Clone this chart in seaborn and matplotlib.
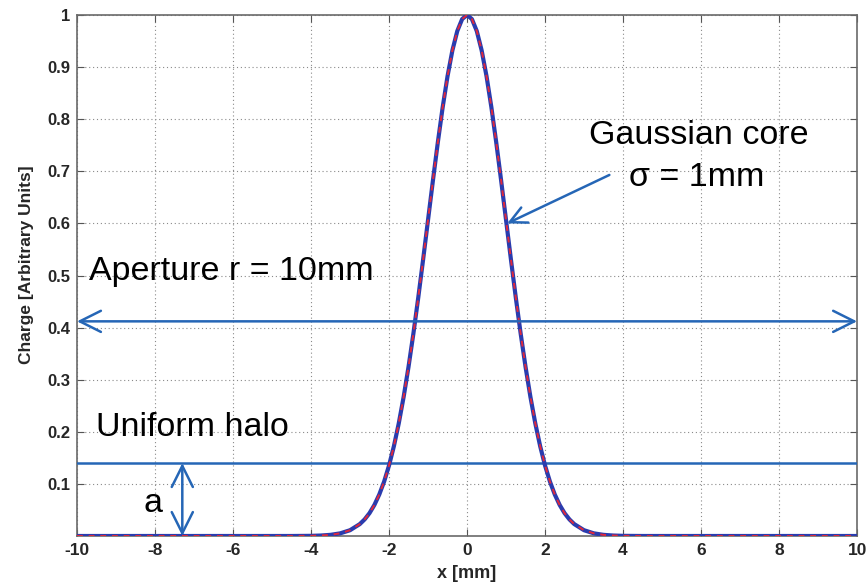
import matplotlib
matplotlib.use("Agg")
import matplotlib.pyplot as plt
import seaborn as sns
import pandas as pd

# Gaussian core profile (sigma = 1 mm)
x_mm = [-10.0, -6.0, -5.0, -4.5, -4.0, -3.75, -3.5, -3.25, -3.0, -2.75, -2.625, -2.5, -2.375,
        -2.25, -2.125, -2.0, -1.875, -1.75, -1.625, -1.5, -1.375, -1.25, -1.125, -1.0,
        -0.875, -0.75, -0.625, -0.5, -0.375, -0.25, -0.125, 0.0,
        0.125, 0.25, 0.375, 0.5, 0.625, 0.75, 0.875, 1.0, 1.125, 1.25, 1.375, 1.5,
        1.625, 1.75, 1.875, 2.0, 2.125, 2.25, 2.375, 2.5, 2.625, 2.75,
        3.0, 3.25, 3.5, 3.75, 4.0, 4.5, 5.0, 6.0, 10.0]
charge = [0.0, 0.0, 0.0, 0.0, 0.0003, 0.0009, 0.0022, 0.0051, 0.0111, 0.0228, 0.0319, 0.0439, 0.0596,
          0.0796, 0.1046, 0.1353, 0.1724, 0.2163, 0.2671, 0.3247, 0.3886, 0.4578, 0.5311, 0.6065,
          0.6819, 0.7548, 0.8226, 0.8825, 0.9321, 0.9692, 0.9922, 1.0,
          0.9922, 0.9692, 0.9321, 0.8825, 0.8226, 0.7548, 0.6819, 0.6065, 0.5311, 0.4578, 0.3886, 0.3247,
          0.2671, 0.2163, 0.1724, 0.1353, 0.1046, 0.0796, 0.0596, 0.0439, 0.0319, 0.0228,
          0.0111, 0.0051, 0.0022, 0.0009, 0.0003, 0.0, 0.0, 0.0, 0.0]

halo_level = 0.14
aperture_y = 0.412
aperture_x = [-10, 10]
halo_arrow_x = -7.3

x_ticks = [-10, -8, -6, -4, -2, 0, 2, 4, 6, 8, 10]
y_ticks = [0.1, 0.2, 0.3, 0.4, 0.5, 0.6, 0.7, 0.8, 0.9, 1.0]
y_tick_labels = ["0.1", "0.2", "0.3", "0.4", "0.5", "0.6", "0.7", "0.8", "0.9", "1"]

df = pd.DataFrame({"x": x_mm, "charge": charge})

sns.set_style("white")
plt.rcParams["font.family"] = ["Liberation Sans", "DejaVu Sans"]

fig = plt.figure(figsize=(8.68, 5.84), dpi=100)
ax = fig.add_axes([0.0887, 0.0822, 0.8987, 0.8921])

blue_line = "#2a3cae"
red_dash = "#e0283c"
arrow_blue = "#2566b6"

sns.lineplot(data=df, x="x", y="charge", ax=ax, color=blue_line, lw=3.0, zorder=4)
sns.lineplot(data=df, x="x", y="charge", ax=ax, color=red_dash, lw=1.4,
             linestyle=(0, (3, 3)), zorder=5)

# uniform halo level
ax.axhline(halo_level, color=arrow_blue, lw=1.8, zorder=3)

head = dict(color=arrow_blue, lw=1.8, mutation_scale=38, shrinkA=0, shrinkB=0)
# aperture double arrow
ax.annotate("", xy=(aperture_x[0], aperture_y), xytext=(aperture_x[1], aperture_y),
            xycoords="data", annotation_clip=False,
            arrowprops=dict(arrowstyle="<->", **head), zorder=6)
# halo height arrow
ax.annotate("", xy=(halo_arrow_x, 0.0), xytext=(halo_arrow_x, halo_level),
            xycoords="data", annotation_clip=False,
            arrowprops=dict(arrowstyle="<->", **head), zorder=6)
# gaussian core pointer
ax.annotate("", xy=(1.03, 0.60), xytext=(3.65, 0.693), xycoords="data",
            arrowprops=dict(arrowstyle="->", color=arrow_blue, lw=1.8,
                            mutation_scale=30, shrinkA=0, shrinkB=0), zorder=6)

txt = dict(fontsize=24.5, color="black", family=["Liberation Sans", "DejaVu Sans"])
ax.text(5.95, 0.768, "Gaussian core", ha="center", va="center", **txt)
ax.text(5.9, 0.688, "σ = 1mm", ha="center", va="center", **txt)
ax.text(-9.7, 0.507, "Aperture r = 10mm", ha="left", va="center", **txt)
ax.text(-9.5, 0.208, "Uniform halo", ha="left", va="center", **txt)
ax.text(-8.05, 0.062, "a", ha="center", va="center", **txt)

ax.set_xlim(-10, 10)
ax.set_ylim(0, 1)
ax.set_xticks(x_ticks)
ax.set_yticks(y_ticks)
ax.set_xticklabels([str(t) for t in x_ticks], fontsize=12.5, fontweight="bold")
ax.set_yticklabels(y_tick_labels, fontsize=12, fontweight="bold")
ax.set_xlabel("x [mm]", fontsize=13, fontweight="bold", labelpad=5)
ax.set_ylabel("Charge [Arbitrary Units]", fontsize=12.5, fontweight="bold", labelpad=8,
              family=["Liberation Sans Narrow", "Liberation Sans", "DejaVu Sans"])
ax.yaxis.set_label_coords(-0.055, 0.52)

ax.grid(True, color="#8a8a8a", linestyle=(0, (1, 2.5)), lw=0.8)
ax.tick_params(direction="in", length=5, width=0.8, color="#555555",
               top=True, right=True, bottom=True, left=True, pad=5)
for s in ax.spines.values():
    s.set_color("#6a6a6a")
    s.set_linewidth(1.2)
    s.set_visible(True)

fig.savefig("out.png", dpi=100, facecolor="white")
